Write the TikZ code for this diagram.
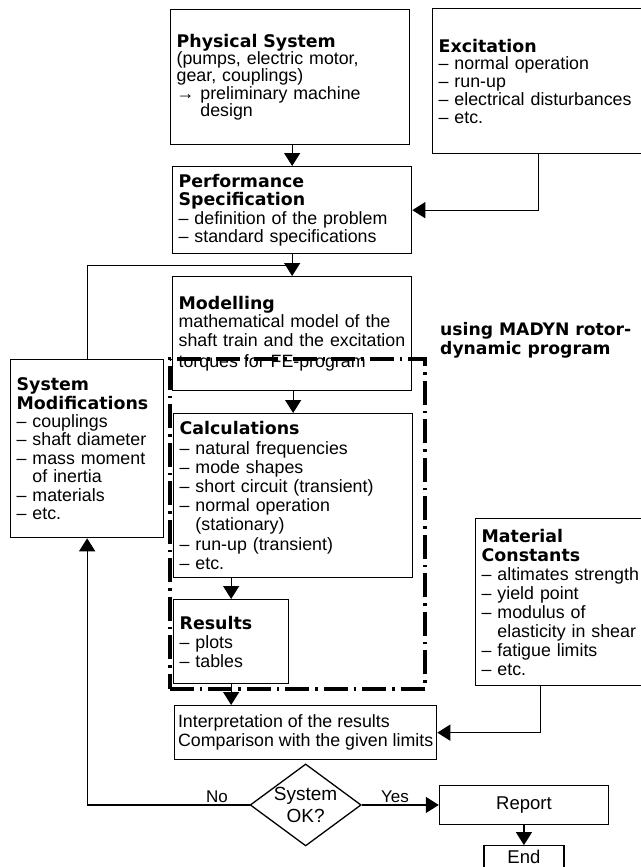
\documentclass[tikz,border=0pt]{standalone}
\usepackage{fontspec}
\setmainfont{Liberation Sans}
\newfontfamily\hdfont{DejaVu Sans}
\usetikzlibrary{arrows.meta, positioning, calc, shapes.geometric}
\newcommand{\hdline}[1]{{\hdfont\bfseries\fontsize{17.4pt}{18.3pt}\selectfont #1}}
\newcommand{\ind}{\hphantom{– }}

\begin{document}
\begin{tikzpicture}[
    x=1pt, y=-1pt,
    box/.style={rectangle, draw=black, line width=1.3pt, anchor=north west,
                inner xsep=6pt, inner ysep=0pt, align=left,
                font={\fontsize{17.8pt}{18.3pt}\selectfont}},
    lead/.style={font={\fontsize{17.8pt}{#1}\selectfont}},
    plain/.style={rectangle, draw=black, line width=1.3pt,
                  font={\fontsize{18.5pt}{20pt}\selectfont}},
    dec/.style={diamond, draw=black, line width=1.3pt, aspect=1.35,
                minimum width=111pt, minimum height=82pt, inner sep=-4pt,
                align=center, font={\fontsize{19pt}{22pt}\selectfont}},
    frame/.style={rectangle, draw=black, line width=3.6pt, anchor=north west,
                  inner sep=0pt, dash pattern=on 24pt off 6pt on 2.5pt off 6pt},
    note/.style={anchor=north west, inner sep=0pt, align=left,
                 font={\hdfont\bfseries\fontsize{17.2pt}{19pt}\selectfont}},
    arr/.style={-{Triangle[length=13pt, width=16pt]}, line width=1.3pt},
    ln/.style={line width=1.3pt},
    lbl/.style={font={\fontsize{17pt}{17pt}\selectfont}, inner sep=2pt}
]
  \useasboundingbox (0,0) rectangle (640,867);

  \node[box, lead=17.2pt, minimum width=239pt, minimum height=135pt, text width=227pt] (phys) at (170,9)
    {\hdline{Physical System}\\(pumps, electric motor,\\gear, couplings)\\→ preliminary machine\\\hphantom{→ }design};
  \node[box, lead=17.7pt, minimum width=228pt, minimum height=145pt, text width=216pt] (exc) at (432,8)
    {\hdline{Excitation}\\– normal operation\\– run-up\\– electrical disturbances\\– etc.};
  \node[box, lead=18.3pt, minimum width=239pt, minimum height=87pt, text width=227pt] (perf) at (172,166)
    {\hdline{Performance}\\\hdline{Specification}\\– definition of the problem\\– standard specifications};
  \node[box, lead=18.6pt, minimum width=239pt, minimum height=114pt, text width=227pt] (model) at (172,276)
    {\hdline{Modelling}\\mathematical model of the\\shaft train and the excitation\\[3pt]torques for FE-program};
  \node[box, lead=19.2pt, minimum width=239pt, minimum height=164pt, text width=227pt] (calc) at (173,413)
    {\hdline{Calculations}\\– natural frequencies\\– mode shapes\\– short circuit (transient)\\– normal operation\\\ind(stationary)\\– run-up (transient)\\– etc.};
  \node[box, lead=19pt, minimum width=115pt, minimum height=84pt, text width=103pt] (res) at (173,599)
    {\hdline{Results}\\– plots\\– tables};
  \node[box, lead=19pt, minimum width=262pt, minimum height=54pt, inner xsep=3pt] (interp) at (174,705)
    {Interpretation of the results\\Comparison with the given limits};
  \node[box, lead=18.4pt, minimum width=153pt, minimum height=178pt, text width=141pt] (sysmod) at (10,359)
    {\hdline{System}\\\hdline{Modifications}\\– couplings\\– shaft diameter\\– mass moment\\\ind of inertia\\– materials\\– etc.};
  \node[box, lead=19pt, minimum width=185pt, minimum height=167pt, text width=173pt] (mat) at (475,518)
    {\hdline{Material}\\\hdline{Constants}\\– altimates strength\\– yield point\\– modulus of\\\ind elasticity in shear\\– fatigue limits\\– etc.};

  \node[note] (madyn) at (440,322) {using MADYN rotor-\\dynamic program};
  \node[frame, minimum width=255pt, minimum height=330pt] (prog) at (168,357) {};

  \node[dec, below=3pt of interp]             (dia)    {System\\OK?};
  \node[plain, right=77pt of dia, minimum width=169pt, minimum height=39pt] (report) {Report};
  \node[plain, below=20pt of report, minimum width=80pt, minimum height=22pt, inner ysep=1pt] (endbox) {End};

  \coordinate (jn) at ($(perf.south)!0.5!(model.north)$);

  \draw[arr] (phys.south -| perf.north) -- (perf.north);
  \draw[arr] ([xshift=-8pt]exc.south) |- (perf.east);
  \draw[arr] (perf.south) -- (model.north);
  \draw[ln]  (sysmod.north) |- (jn);
  \draw[arr] (model.south -| calc.north) -- (calc.north);
  \draw[arr] (calc.south -| res.north) -- (res.north);
  \draw[arr] (res.south) -- (res.south |- interp.north);
  \draw[arr] ([xshift=-27.5pt]mat.south) |- (interp.east);
  \draw[arr] (dia.west) -| node[lbl, above, pos=0.1]{No} (sysmod.south);
  \draw[arr] (dia.east) -- node[lbl, above, pos=0.43]{Yes} (report.west);
  \draw[arr] (report.south) -- (endbox.north);
\end{tikzpicture}
\end{document}
